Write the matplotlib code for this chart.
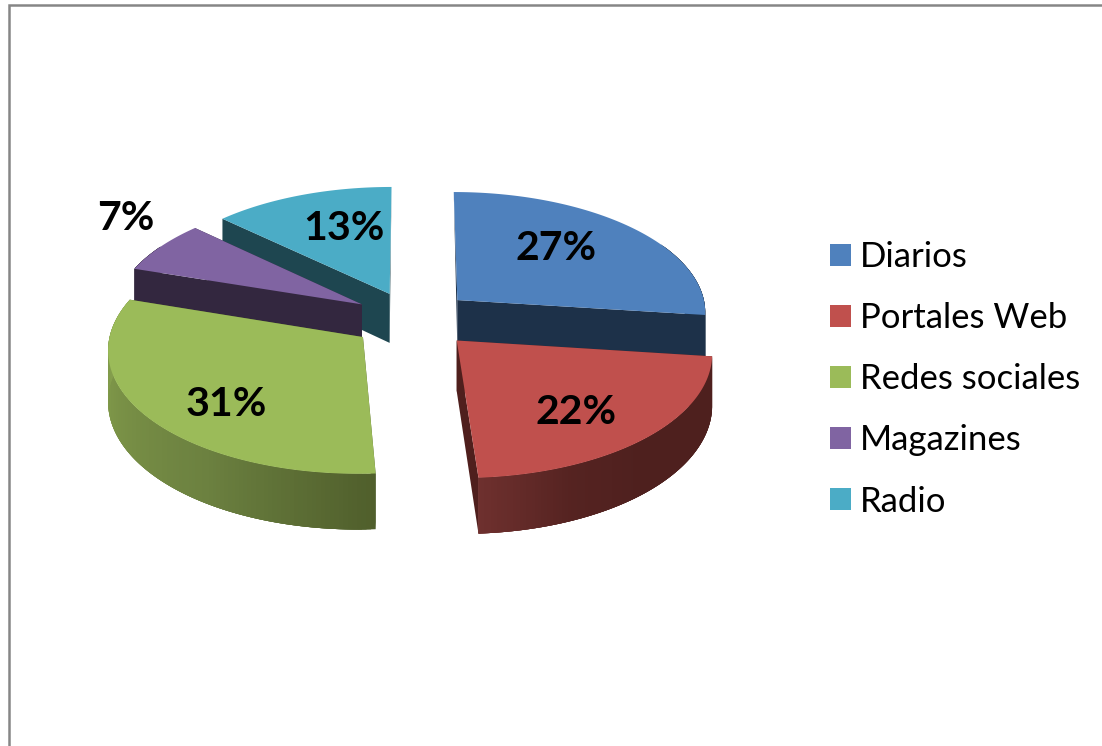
import numpy as np
import matplotlib
matplotlib.use("Agg")
import matplotlib.pyplot as plt
from matplotlib.patches import Patch
from matplotlib.colors import LinearSegmentedColormap

categories = ["Diarios", "Portales Web", "Redes sociales", "Magazines", "Radio"]
shares = [27, 22, 31, 7, 13]
pct_labels = ["27%", "22%", "31%", "7%", "13%"]

top_colors = ["#4f81bd", "#c0504d", "#9bbb59", "#8064a2", "#4bacc6"]
cut_colors = ["#1d3149", "#4f1f1d", "#505f2c", "#33273f", "#1e4650"]
# wall colours run from the start angle of the slice to its end angle
wall_colors = [
    ["#1d3149", "#1d3149"],
    ["#4e201e", "#4e201e", "#4e201e", "#552321", "#6e302e"],
    ["#505f2c", "#6c8140", "#7b9347", "#8aa550"],
    ["#33273f", "#33273f"],
    ["#1e4650", "#1e4650"],
]
label_pos = [(556, 249), (576, 413), (226, 405), (126, 218), (344, 229)]
nudge = [(0, 0), (2, 0), (-2, 0), (0, 0), (0, 1)]
draw_order = [4, 3, 0, 2, 1]

# perspective of the fake 3d pie, in pixels
cx, cy = 413, 319
B, A = 250, 121
k = 0.09
H = 50
explode = 0.24


def project(wx, wz, drop=0, n=(0, 0)):
    d = 1 + k * wz
    return cx + n[0] + B * wx / d, cy + n[1] + (-A * wz + drop) / d


fig = plt.figure(figsize=(11.02, 7.46), dpi=100)
ax = fig.add_axes([0, 0, 1, 1])
ax.set_xlim(0, 1102)
ax.set_ylim(746, 0)
ax.axis("off")

# chart border, only top and left are in the picture
ax.plot([9, 9, 1102], [746, 5, 5], color="#868686", lw=1.8, solid_joinstyle="miter")

edges = np.radians(np.concatenate([[0], np.cumsum(shares)]) * 3.6)

for i in draw_order:
    a0, a1 = edges[i], edges[i + 1]
    mid = (a0 + a1) / 2
    ox, oz = explode * np.sin(mid), explode * np.cos(mid)
    th = np.linspace(a0, a1, 120)
    rx, rz = ox + np.sin(th), oz + np.cos(th)
    n = nudge[i]

    # cut faces, the ones running to the back of the pie only show near the apex
    for a in [a0, a1]:
        rim = (ox + np.sin(a), oz + np.cos(a))
        if np.cos(a) > 0.9:
            pts = [project(ox, oz, 0, n), project(*rim, 0, n), project(ox, oz, H, n)]
        else:
            pts = [project(ox, oz, 0, n), project(*rim, 0, n),
                   project(*rim, H, n), project(ox, oz, H, n)]
        ax.fill(*zip(*pts), color=cut_colors[i], lw=0)

    # outer wall as thin strips, they overlap so no seams show
    # the back of the rim is hidden anyway so it gets no wall
    cmap = LinearSegmentedColormap.from_list("wall", wall_colors[i])
    for j in range(len(th) - 1):
        if np.cos(th[j]) > 0.5:
            continue
        e = min(j + 4, len(th) - 1)
        xa, ya = project(rx[j:e + 1], rz[j:e + 1], 0, n)
        xb, yb = project(rx[j:e + 1], rz[j:e + 1], H, n)
        col = cmap(j / (len(th) - 2))
        ax.fill(np.r_[xa, xb[::-1]], np.r_[ya, yb[::-1]], color=col, lw=0)

    # top
    xs, ys = project(np.r_[ox, rx], np.r_[oz, rz], 0, n)
    ax.fill(xs, ys, color=top_colors[i], lw=0)

for txt, (x, y) in zip(pct_labels, label_pos):
    ax.text(x, y, txt, ha="center", va="center", fontsize=29.5, fontweight="bold",
            family="Lato", color="black")

handles = [Patch(facecolor=c, edgecolor="none") for c in top_colors]
ax.legend(handles, categories, loc="upper left", bbox_to_anchor=(830 / 1102, 1 - 241 / 746),
          frameon=False, prop={"family": "Lato", "size": 25},
          handlelength=0.6, handleheight=0.6, handletextpad=0.26,
          labelspacing=0.84, borderpad=0, borderaxespad=0)

fig.savefig("out.png", dpi=100)
